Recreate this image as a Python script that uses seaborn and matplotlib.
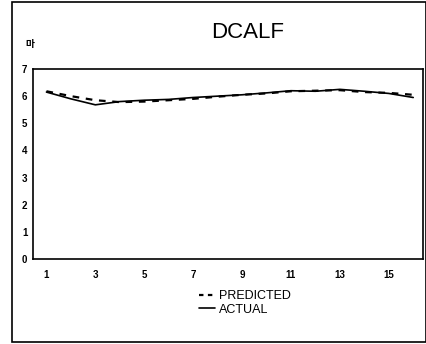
import matplotlib
matplotlib.use("Agg")
import matplotlib.pyplot as plt
import seaborn as sns
import pandas as pd
from matplotlib.lines import Line2D
from matplotlib.patches import Rectangle

periods = list(range(1, 17))
actual = [6.15, 5.9, 5.68, 5.8, 5.85, 5.88, 5.95, 6.0, 6.05, 6.12, 6.2, 6.18, 6.25, 6.18, 6.1, 5.95]
predicted = [6.18, 6.0, 5.85, 5.78, 5.8, 5.85, 5.9, 5.98, 6.05, 6.1, 6.18, 6.2, 6.22, 6.15, 6.12, 6.05]
xticks = [1, 3, 5, 7, 9, 11, 13, 15]
yticks = [0, 1, 2, 3, 4, 5, 6, 7]
title = "DCALF"
ylabel = "마"

sns.set_theme(style="white")
plt.rcParams['font.family'] = ['Liberation Sans', 'DejaVu Sans', 'Noto Sans CJK KR']
plt.rcParams['text.color'] = 'black'
plt.rcParams['xtick.color'] = 'black'
plt.rcParams['ytick.color'] = 'black'

fig = plt.figure(figsize=(4.27, 3.44), dpi=100)
ax = fig.add_axes([33/427, 1-259/344, (423-33)/427, (259-69)/344])

df_a = pd.DataFrame({"x": periods, "y": actual})
df_p = pd.DataFrame({"x": periods, "y": predicted})
sns.lineplot(data=df_a, x="x", y="y", ax=ax, color="black", linewidth=1.2)
sns.lineplot(data=df_p, x="x", y="y", ax=ax, color="black", linewidth=1.6, linestyle=(0, (3, 3)))

ax.set_xlim(0.45, 16.4)
ax.set_ylim(0, 7)
ax.set_xticks(xticks)
ax.set_xticklabels([str(t) for t in xticks], fontsize=7, fontweight="bold", color="black")
ax.set_yticks(yticks)
ax.set_yticklabels([str(t) for t in yticks], fontsize=7, fontweight="bold", color="black")
ax.tick_params(axis="x", length=0, pad=8)
ax.tick_params(axis="y", length=0, pad=4)
ax.set_xlabel("")
ax.set_ylabel("")
for s in ax.spines.values():
    s.set_color("black")
    s.set_linewidth(1.2)

fig.text(248/427, 1-32/344, title, ha="center", va="center", fontsize=16, color="black")
fig.text(30/427, 1-44/344, ylabel, ha="center", va="center", fontsize=7, color="black",
         fontweight="bold", family=['Noto Sans CJK KR', 'DejaVu Sans'])

handles = [Line2D([], [], color="black", linestyle=(0, (2, 2)), linewidth=1.6),
           Line2D([], [], color="black", linewidth=1.2)]
leg = fig.legend(handles, ["PREDICTED", "ACTUAL"], loc="center", bbox_to_anchor=(245/427, 1-303/344),
                 frameon=False, fontsize=9, handlelength=1.3, handletextpad=0.3, labelspacing=0.1,
                 borderpad=0)
for t in leg.get_texts():
    t.set_color("black")

fig.patches.append(Rectangle((12/427, 2/344), 414/427, 340/344, transform=fig.transFigure,
                             fill=False, edgecolor="black", linewidth=1.2))

fig.savefig("out.png", dpi=100)
